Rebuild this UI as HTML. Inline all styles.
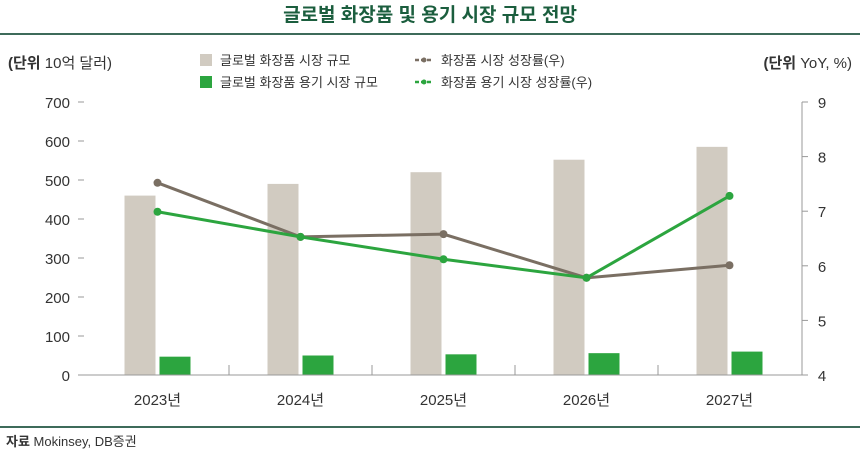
<!DOCTYPE html>
<html><head><meta charset="utf-8"><style>
body{margin:0;width:860px;height:452px;background:#fff;overflow:hidden;font-family:"Liberation Sans","Noto Sans CJK KR",sans-serif;}
svg text{font-family:"Liberation Sans","Noto Sans CJK KR",sans-serif;}
</style></head><body>
<svg id="c" width="860" height="452">
<text x="430" y="21" text-anchor="middle" font-size="19" font-weight="bold" fill="#1b5e3e">글로벌 화장품 및 용기 시장 규모 전망</text>
<rect x="0" y="33" width="860" height="2" fill="#3e6b5a"/>
<text x="8" y="68" font-size="15" fill="#333"><tspan font-weight="bold">(단위</tspan> 10억 달러)</text>
<text x="852" y="68" text-anchor="end" font-size="15" fill="#333"><tspan font-weight="bold">(단위</tspan> YoY, %)</text>
<g>
<rect x="200" y="54" width="12" height="12" fill="#d1cbc1"/>
<text x="220" y="65" font-size="13" fill="#333">글로벌 화장품 시장 규모</text>
<rect x="200" y="76" width="12" height="12" fill="#2ca53f"/>
<text x="220" y="87" font-size="13" fill="#333">글로벌 화장품 용기 시장 규모</text>
<line x1="415" y1="60" x2="433" y2="60" stroke="#7a6f63" stroke-width="2.5" stroke-dasharray="4 2"/><circle cx="424" cy="60" r="2.5" fill="#7a6f63"/>
<text x="441" y="65" font-size="13" fill="#333">화장품 시장 성장률(우)</text>
<line x1="415" y1="82" x2="433" y2="82" stroke="#2ca53f" stroke-width="2.5" stroke-dasharray="4 2"/><circle cx="424" cy="82" r="2.5" fill="#2ca53f"/>
<text x="441" y="87" font-size="13" fill="#333">화장품 용기 시장 성장률(우)</text>
</g>
<g id="plot"></g>
<rect x="0" y="426" width="860" height="2" fill="#3e6b5a"/>
<text x="6" y="446" font-size="13" fill="#333"><tspan font-weight="bold">자료</tspan> Mokinsey, DB증권</text>
</svg>
<script>
const categories=["2023년","2024년","2025년","2026년","2027년"];
const marketSize=[460,490,520,552,585];
const containerSize=[47,50,53,56,60];
const marketGrowth=[7.52,6.53,6.58,5.78,6.01];
const containerGrowth=[6.99,6.53,6.12,5.78,7.28];
const leftTicks=[0,100,200,300,400,500,600,700];
const rightTicks=[4,5,6,7,8,9];
const NS="http://www.w3.org/2000/svg";
const g=document.getElementById('plot');
const x0=86,cw=143,yBase=375,yTop=102;
const yL=v=>yBase-(v/700)*(yBase-yTop);
const yR=v=>yBase-((v-4)/5)*(yBase-yTop);
const xC=i=>x0+cw*(i+0.5);
function mk(t,a){const e=document.createElementNS(NS,t);for(const k in a)e.setAttribute(k,a[k]);g.appendChild(e);return e;}
leftTicks.forEach(v=>{const t=mk('text',{x:70,y:yL(v)+6,'text-anchor':'end','font-size':15,fill:'#333'});t.textContent=v;


mk('line',{x1:78,x2:84,y1:yL(v),y2:yL(v),stroke:'#999'});});
rightTicks.forEach(v=>{const t=mk('text',{x:822,y:yR(v)+6,'text-anchor':'middle','font-size':15,fill:'#333'});t.textContent=v;


mk('line',{x1:802,x2:808,y1:yR(v),y2:yR(v),stroke:'#999'});});
mk('line',{x1:802,x2:802,y1:yTop,y2:yBase,stroke:'#999'});
categories.forEach((c,i)=>{
const b1=mk('rect',{x:xC(i)-33,y:yL(marketSize[i]),width:31,height:yBase-yL(marketSize[i]),fill:'#d1cbc1'});


const b2=mk('rect',{x:xC(i)+2,y:yL(containerSize[i]),width:31,height:yBase-yL(containerSize[i]),fill:'#2ca53f'});


const t=mk('text',{x:xC(i),y:405,'text-anchor':'middle','font-size':15,fill:'#333'});t.textContent=c;


if(i>0)mk('line',{x1:x0+cw*i,x2:x0+cw*i,y1:yBase,y2:yBase-10,stroke:'#999'});
});
mk('line',{x1:80,x2:802,y1:yBase,y2:yBase,stroke:'#999'});
function series(arr,col,name){
const p=mk('polyline',{points:arr.map((v,i)=>xC(i)+','+yR(v)).join(' '),fill:'none',stroke:col,'stroke-width':3});


arr.forEach((v,i)=>{const c=mk('circle',{cx:xC(i),cy:yR(v),r:4,fill:col});

});
}
series(marketGrowth,'#7a6f63','market-growth');
series(containerGrowth,'#2ca53f','container-growth');
</script>
</body></html>
